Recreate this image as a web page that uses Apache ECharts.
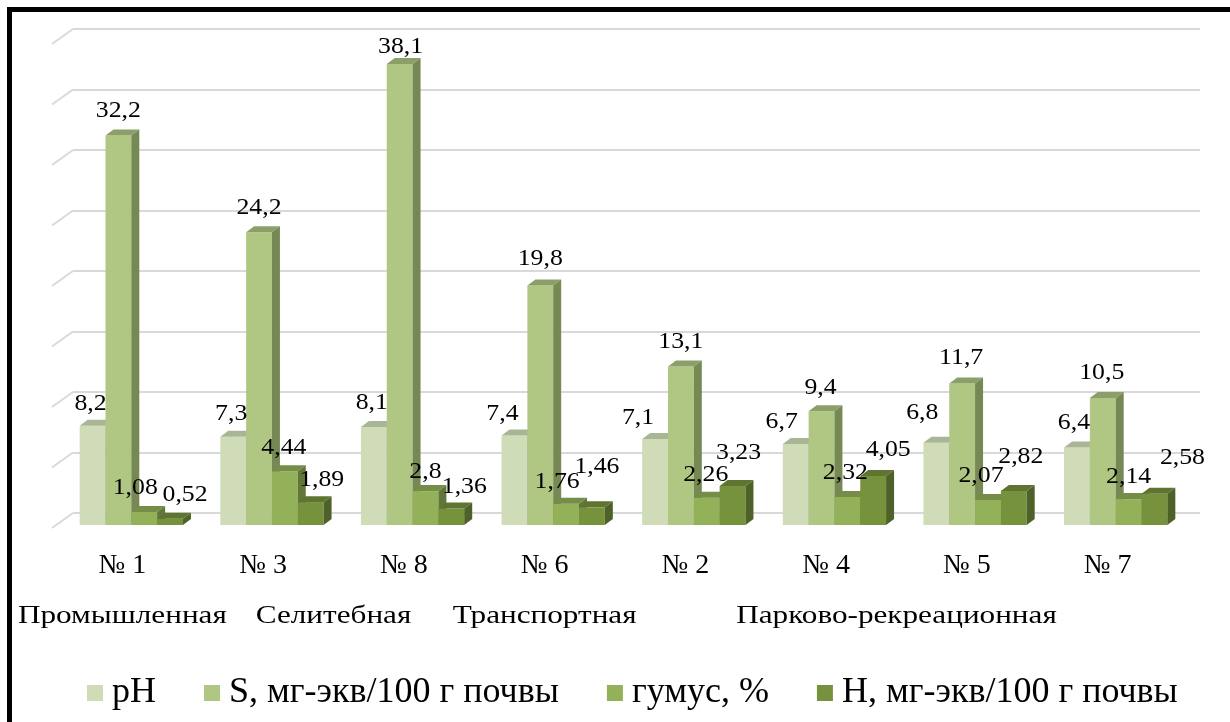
<!DOCTYPE html>
<html>
<head>
<meta charset="utf-8">
<script src="https://cdn.jsdelivr.net/npm/echarts@6/dist/echarts.min.js"></script>
<style>
  html, body { margin: 0; padding: 0; background: #fff; }
  #chart { width: 1230px; height: 722px; }
</style>
</head>
<body>
<div id="chart"></div>
<script>
// Soil sampling points, grouped by functional zone
const categories = ['№ 1', '№ 3', '№ 8', '№ 6', '№ 2', '№ 4', '№ 5', '№ 7'];
const zoneNames = ['Промышленная', 'Селитебная', 'Транспортная', 'Парково-рекреационная'];
const zoneSpans = [[0, 0], [1, 2], [3, 3], [4, 7]];

// Measured soil properties
const seriesNames = ['pH', 'S, мг-экв/100 г почвы', 'гумус, %', 'H, мг-экв/100 г почвы'];
const pH    = [8.2, 7.3, 8.1, 7.4, 7.1, 6.7, 6.8, 6.4];
const S     = [32.2, 24.2, 38.1, 19.8, 13.1, 9.4, 11.7, 10.5];
const humus = [1.08, 4.44, 2.8, 1.76, 2.26, 2.32, 2.07, 2.14];
const H     = [0.52, 1.89, 1.36, 1.46, 3.23, 4.05, 2.82, 2.58];

// Value scale
const yMin = 0, yMax = 40, yStep = 5;
const yTicks = [0, 5, 10, 15, 20, 25, 30, 35, 40];

const values = [pH, S, humus, H];

// Hand-placed value labels: [dx, dy] in px from the default spot above each bar
const labelShift = [
  [[-2, 2], [-2, 1], [-2, 0], [-12, 2], [-17, 3], [-14, 2], [-14, -6], [-3, -1]],
  [[0, 0], [0, 0], [1, 7], [0, -2], [0, -1], [-1, 1], [-1, -1], [-1, -1]],
  [[-9, 0], [-1, 1], [0, 5], [-9, 2], [-1, 1], [-2, 0], [-7, 0], [0, 2]],
  [[15, 0], [11, 2], [13, 2], [5, -16], [6, -9], [15, -2], [7, -10], [28, -12]]
];

// Face colours: front, top, side
const palette = [
  { front: '#cfdcb7', top: '#a9b696', side: '#98a584' },
  { front: '#b0c784', top: '#8c9f69', side: '#768854' },
  { front: '#93b158', top: '#758d46', side: '#62763a' },
  { front: '#77923d', top: '#5f7431', side: '#4e6128' }
];

const FONT = 'Liberation Serif, Times New Roman, serif';
const DX = 8, DY = 6;          // bar depth projection
const BAR_FRAC = 0.1836;       // bar width as a share of one category band

// Decimal comma, no trailing zeros
function fmt(v) { return String(v).replace('.', ','); }

function barGeom(api, k) {
  const idx = api.value(0), v = api.value(1);
  const top = api.coord([idx, v]);
  const base = api.coord([idx, 0]);
  const band = api.size([1, 0])[0];
  const w = band * BAR_FRAC;
  const x0 = top[0] - 2 * w + k * w;
  return { idx: idx, x0: x0, x1: x0 + w, yt: top[1], yb: base[1], w: w, v: v };
}

function barRenderer(k) {
  const c = palette[k];
  return function (params, api) {
    const g = barGeom(api, k);
    return {
      type: 'group',
      children: [
        { type: 'rect', shape: { x: g.x0, y: g.yt, width: g.w, height: g.yb - g.yt }, style: { fill: c.front } },
        { type: 'polygon', shape: { points: [[g.x0, g.yt], [g.x0 + DX, g.yt - DY], [g.x1 + DX, g.yt - DY], [g.x1, g.yt]] }, style: { fill: c.top } },
        { type: 'polygon', shape: { points: [[g.x1, g.yt], [g.x1 + DX, g.yt - DY], [g.x1 + DX, g.yb - DY], [g.x1, g.yb]] }, style: { fill: c.side } }
      ]
    };
  };
}

function labelRenderer(k) {
  return function (params, api) {
    const g = barGeom(api, k);
    const sh = labelShift[k][g.idx];
    return {
      type: 'text',
      x: (g.x0 + g.x1) / 2 + sh[0],
      y: g.yt - 24 + sh[1],
      scaleX: 1.12,
      style: {
        x: 0, y: 0,
        text: fmt(g.v),
        align: 'center', verticalAlign: 'middle',
        font: '23px ' + FONT, fill: '#000'
      }
    };
  };
}

const series = [];

// Side-wall ticks running from the back wall towards the viewer
series.push({
  type: 'custom', xAxisIndex: 0, yAxisIndex: 0, silent: true, z: 1,
  data: yTicks.map(function (t) { return [0, t]; }),
  renderItem: function (params, api) {
    const p = api.coord([0, api.value(1)]);
    const x = params.coordSys.x;
    return { type: 'line', shape: { x1: x, y1: p[1], x2: x - 21, y2: p[1] + 15 }, style: { stroke: '#d9d9d9', lineWidth: 2 } };
  }
});

values.forEach(function (arr, k) {
  series.push({
    name: seriesNames[k], type: 'custom', xAxisIndex: 1, yAxisIndex: 1, z: 2 + k,
    itemStyle: { color: palette[k].front },
    data: arr.map(function (v, i) { return [i, v]; }),
    renderItem: barRenderer(k)
  });
});

values.forEach(function (arr, k) {
  series.push({
    name: seriesNames[k], type: 'custom', xAxisIndex: 1, yAxisIndex: 1, z: 20, silent: true,
    itemStyle: { color: palette[k].front },
    data: arr.map(function (v, i) { return [i, v]; }),
    renderItem: labelRenderer(k)
  });
});

// Zone captions centred under their sampling points
series.push({
  type: 'custom', xAxisIndex: 2, yAxisIndex: 2, silent: true, z: 20,
  data: zoneSpans.map(function (s, i) { return [s[0], s[1], i]; }),
  renderItem: function (params, api) {
    const a = api.coord([api.value(0), 0]);
    const b = api.coord([api.value(1), 0]);
    const cs = params.coordSys;
    return {
      type: 'text',
      x: (a[0] + b[0]) / 2,
      y: cs.y + cs.height + 75,
      scaleX: 1.2,
      style: {
        x: 0, y: 0,
        text: zoneNames[api.value(2)],
        align: 'center', verticalAlign: 'middle',
        font: '26px ' + FONT, fill: '#000'
      }
    };
  }
});

const option = {
  backgroundColor: '#fff',
  animation: false,
  grid: [
    { left: 73, top: 29, width: 1127, height: 484 },   // back wall
    { left: 61, top: 41, width: 1125, height: 484 },   // bars
    { left: 52, top: 500, width: 1126, height: 41 }    // category captions
  ],
  xAxis: [
    { gridIndex: 0, type: 'value', min: 0, max: 1, show: false },
    { gridIndex: 1, type: 'category', data: categories, show: false },
    {
      gridIndex: 2, type: 'category', data: categories,
      axisLine: { show: false }, axisTick: { show: false },
      axisLabel: { margin: 11, fontSize: 28, fontFamily: FONT, color: '#000' }
    }
  ],
  yAxis: [
    {
      gridIndex: 0, type: 'value', min: yMin, max: yMax, interval: yStep,
      axisLine: { show: false }, axisTick: { show: false }, axisLabel: { show: false },
      splitLine: { show: true, lineStyle: { color: '#d9d9d9', width: 2 } }
    },
    { gridIndex: 1, type: 'value', min: yMin, max: yMax, show: false, splitLine: { show: false } },
    { gridIndex: 2, type: 'value', min: 0, max: 1, show: false, splitLine: { show: false } }
  ],
  legend: {
    data: seriesNames,
    top: 670, left: 82,
    icon: 'rect', itemWidth: 16, itemHeight: 16, itemGap: 48,
    textStyle: { fontSize: 36, fontFamily: FONT, color: '#000', padding: [0, 0, 0, 4] }
  },
  graphic: [
    { type: 'rect', z: 100, shape: { x: 9.5, y: 9.5, width: 1240, height: 740 }, style: { fill: 'none', stroke: '#000', lineWidth: 5 } }
  ],
  series: series
};

const chart = echarts.init(document.getElementById('chart'), null, { renderer: 'canvas' });
chart.setOption(option);
</script>
</body>
</html>
